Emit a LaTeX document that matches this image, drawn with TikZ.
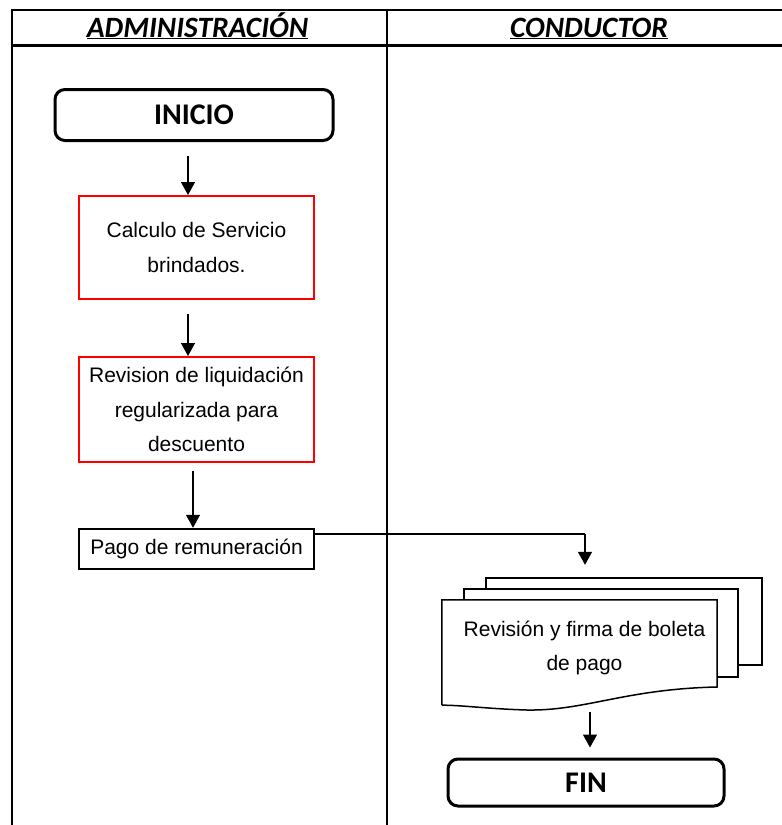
\documentclass[tikz,border=0pt]{standalone}
\usepackage{fontspec}
\setmainfont{Liberation Sans}
\newfontfamily\calibri{Carlito}
\usetikzlibrary{arrows.meta}
\begin{document}
\begin{tikzpicture}[x=1pt,y=-1pt,
  frameline/.style={line width=2pt},
  headtext/.style={anchor=base, inner sep=0pt, font=\calibri\bfseries\itshape\fontsize{29.5}{32}\selectfont},
  term/.style={draw, line width=3pt, rounded corners=10pt, inner sep=0pt,
    font=\calibri\bfseries\fontsize{30}{32}\selectfont},
  redbox/.style={draw=red, line width=2pt, inner sep=0pt, align=center,
    minimum width=235pt, font=\fontsize{21}{34.5}\selectfont},
  plainbox/.style={draw, line width=2.5pt, inner sep=0pt, align=center,
    minimum width=235pt, minimum height=40pt, font=\fontsize{21}{25}\selectfont},
  doctext/.style={inner sep=0pt, align=center, font=\fontsize{21}{34.5}\selectfont},
  docline/.style={line width=1.5pt, line join=miter},
  arr/.style={line width=1.3pt, -{Triangle[length=13pt,width=14pt]}},
  flow/.style={line width=1.3pt}]
\useasboundingbox (0,0) rectangle (782,825);
% frame
\draw[frameline] (782,10) -- (12,10) -- (12,826);
\draw[frameline] (387,10) -- (387,826);
\draw[line width=3pt] (12,45) -- (782,45);
\node[headtext] (hadm) at (197.5,37) {\underline{ADMINISTRACIÓN}};
\node[headtext] (hcon) at (589,37) {\underline{CONDUCTOR}};
% nodes
\node[term, minimum width=278pt, minimum height=51pt] (inicio) at (194,115) {INICIO};
\node[redbox, minimum height=103pt] (calc) at (196.5,247.5) {Calculo de Servicio\\brindados.};
\node[redbox, minimum height=105pt] (rev) at (196.5,409.5) {Revision de liquidación\\regularizada para\\descuento};
\node[plainbox] (pago) at (196.5,549) {Pago de remuneración};
% document stack
\draw[docline] (486,589) |- (762,578) |- (738,665);
\draw[docline] (464,600) |- (738,589) |- (717,677);
\node[minimum width=275pt, minimum height=105pt, inner sep=0pt] (doc) at (579.5,652.5) {};
\draw[docline] (doc.south west) -- (doc.north west) -- (doc.north east) -- (717,687)
  .. controls (625,689) and (585,711) .. (527,710)
  .. controls (490,709) and (460,705) .. (doc.south west);
\node[doctext] (doctxt) at (584.5,648) {Revisión y firma de boleta\\de pago};
\node[term, minimum width=276pt, minimum height=47pt] (fin) at (586,782.5) {FIN};
% connectors
\draw[arr] ([shift={(-6,14)}]inicio.south) -- ([xshift=-8.5pt]calc.north);
\draw[arr] ([shift={(-8.5,14)}]calc.south) -- ([xshift=-8.5pt]rev.north);
\draw[arr] ([shift={(-3.5,8)}]rev.south) -- ([xshift=-3.5pt]pago.north);
\coordinate (docin) at ([shift={(5.5,-35)}]doc.north);
\coordinate (bend) at ([yshift=15pt]pago.east -| docin);
\draw[flow] ([yshift=15pt]pago.east) -- (bend);
\draw[arr] (bend) -- (docin);
\draw[arr, shorten >=10pt] ([shift={(10.5,7)}]doc.south) -- ([xshift=4pt]fin.north);
\end{tikzpicture}
\end{document}
